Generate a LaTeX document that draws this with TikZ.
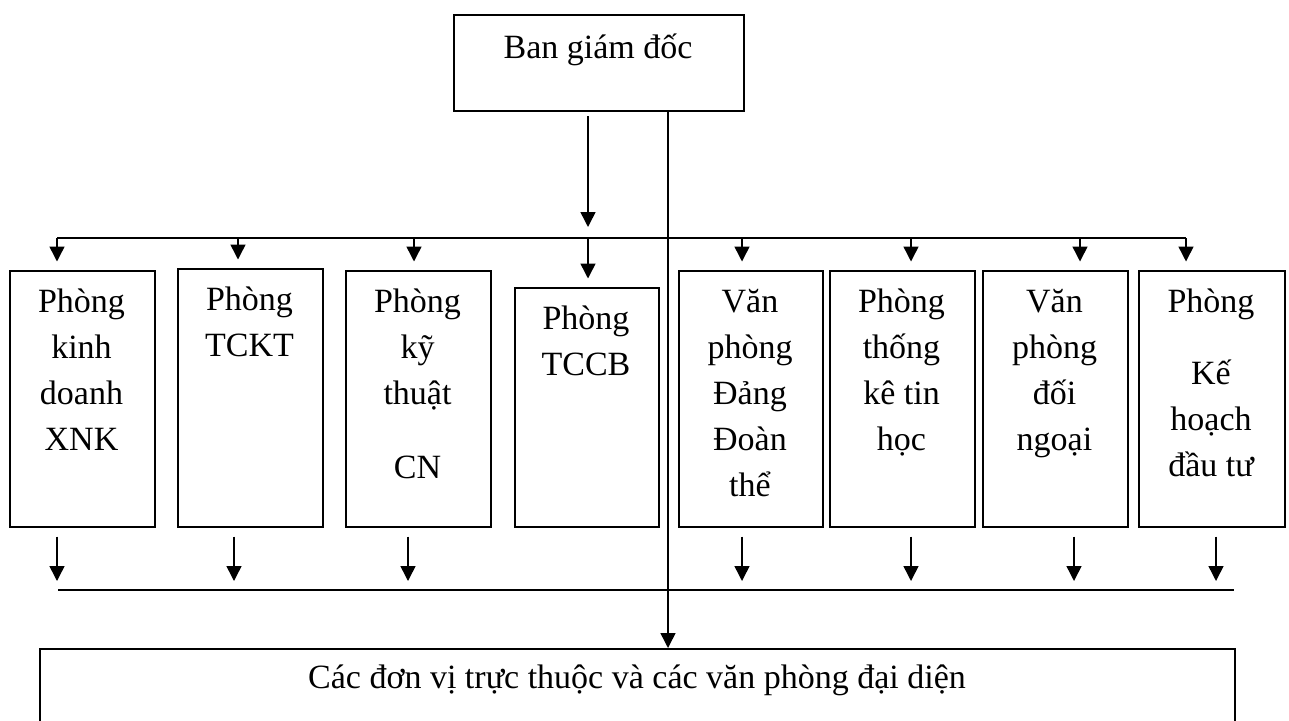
\documentclass[tikz,border=0pt]{standalone}
\usepackage{fontspec}
\setmainfont{Liberation Serif}
\usetikzlibrary{arrows.meta}
\tikzset{
  box/.style={draw, line width=1.5pt, inner sep=0pt, anchor=north west},
  txt/.style={font=\fontsize{34}{46}\selectfont, align=center, inner sep=0pt, anchor=north},
  conn/.style={line width=1.5pt},
  arr/.style={line width=1.5pt, -{Triangle[width=15pt,length=15pt]}},
}
\newcommand{\fl}{\rule{0pt}{32pt}}
\begin{document}
\begin{tikzpicture}[x=1pt,y=-1pt]
\clip (0,0) rectangle (1289,720);
\useasboundingbox (0,0) rectangle (1289,720);
% top box
\node[box, minimum width=290pt, minimum height=96pt] (top) at (453,14) {};
\node[txt] (ttop) at (598,26) {\fl Ban giám đốc};
% department boxes
\node[box, minimum width=145pt, minimum height=256pt] (b1) at (9,270) {};
\node[box, minimum width=145pt, minimum height=258pt] (b2) at (177,268) {};
\node[box, minimum width=145pt, minimum height=256pt] (b3) at (345,270) {};
\node[box, minimum width=144pt, minimum height=239pt] (b4) at (514,287) {};
\node[box, minimum width=144pt, minimum height=256pt] (b5) at (678,270) {};
\node[box, minimum width=145pt, minimum height=256pt] (b6) at (829,270) {};
\node[box, minimum width=145pt, minimum height=256pt] (b7) at (982,270) {};
\node[box, minimum width=146pt, minimum height=256pt] (b8) at (1138,270) {};
\node[txt] (t1) at (81.5,280) {\fl Phòng\\kinh\\doanh\\XNK};
\node[txt] (t2) at (249.5,278) {\fl Phòng\\TCKT};
\node[txt] (t3) at (417.5,280) {\fl Phòng\\kỹ\\thuật\\[28pt]CN};
\node[txt] (t4) at (586,297) {\fl Phòng\\TCCB};
\node[txt] (t5) at (750,280) {\fl Văn\\phòng\\Đảng\\Đoàn\\thể};
\node[txt] (t6) at (901.5,280) {\fl Phòng\\thống\\kê tin\\học};
\node[txt] (t7) at (1054.5,280) {\fl Văn\\phòng\\đối\\ngoại};
\node[txt] (t8) at (1211,280) {\fl Phòng\\[26pt]Kế\\hoạch\\đầu tư};
% bottom box
\node[box, minimum width=1195pt, minimum height=100pt] (bot) at (39,648) {};
\node[txt] (tbot) at (637,656) {\fl Các đơn vị trực thuộc và các văn phòng đại diện};
% coordinates
\coordinate (s1) at (588,116);
\coordinate (e1) at (588,227);
\coordinate (vx) at (668,0);
\coordinate (busL) at (57,238);
\coordinate (busR) at (1186,238);
\coordinate (lowL) at (58,590);
\coordinate (lowR) at (1234,590);
% connectors
\draw[arr] (s1) -- (e1);
\draw[arr] (top.south -| vx) -- (bot.north -| vx);
\draw[conn] (busL) -- (busR);
\foreach \x/\b in {57/b1,238/b2,414/b3,588/b4,742/b5,911/b6,1080/b7,1186/b8}{
  \draw[arr, shorten >=8.5pt] (\x,238) -- (\b.north -| \x,0);
}
\draw[conn] (lowL) -- (lowR);
\foreach \x/\b in {57/b1,234/b2,408/b3,742/b5,911/b6,1074/b7,1216/b8}{
  \draw[arr, shorten <=9pt, shorten >=9pt] (\b.south -| \x,0) -- (\x,590);
}
\end{tikzpicture}
\end{document}
